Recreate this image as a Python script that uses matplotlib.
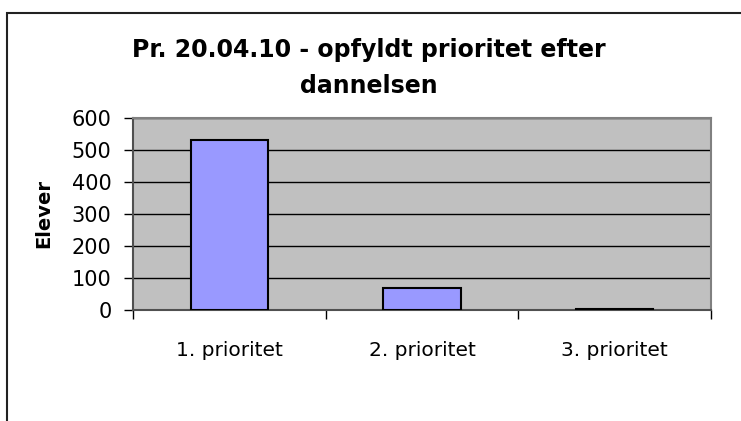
import matplotlib
matplotlib.use("Agg")
import matplotlib.pyplot as plt
from matplotlib.patches import Rectangle

categories = ["1. prioritet", "2. prioritet", "3. prioritet"]
values = [532, 68, 3]
yticks = [0, 100, 200, 300, 400, 500, 600]
title = "Pr. 20.04.10 - opfyldt prioritet efter\ndannelsen"
ylabel = "Elever"

plt.rcParams['font.family'] = ['DejaVu Sans']

W, H = 741, 421
fig = plt.figure(figsize=(W / 100, H / 100), dpi=100)
fig.patch.set_facecolor('white')

# chart area border (cropped at right/bottom)
top = 1 - 13 / H
fig.patches.append(Rectangle((7 / W, -0.2), 1.2, top + 0.2,
                             transform=fig.transFigure, fill=False,
                             edgecolor='#222222', linewidth=1.5, clip_on=False))

ax = fig.add_axes([133 / W, 1 - 310 / H, (711 - 133) / W, (310 - 118) / H])
ax.set_facecolor('#C0C0C0')

x = list(range(len(categories)))
ax.bar(x, values, width=0.4, color='#9999FF', edgecolor='black', linewidth=1.5, zorder=3)

ax.set_xlim(-0.5, len(categories) - 0.5)
ax.set_ylim(0, 600)
ax.set_yticks(yticks)
ax.set_yticklabels([str(v) for v in yticks], fontsize=15)
ax.yaxis.grid(True, color='black', linewidth=1.0, zorder=1)
ax.set_axisbelow(True)

ax.set_xticks(x)
ax.set_xticklabels(categories, fontsize=14.5)
ax.tick_params(axis='x', which='major', length=0, pad=22)
ax.set_xticks([i - 0.5 for i in range(len(categories) + 1)], minor=True)
ax.tick_params(axis='x', which='minor', length=6.5, width=1, color='black', direction='out')
ax.tick_params(axis='y', length=6.5, width=1, color='black', direction='out', pad=9)

for s in ax.spines.values():
    s.set_color('#808080')
    s.set_linewidth(1.5)
ax.spines['left'].set_color('#505050')
ax.spines['bottom'].set_color('#505050')

fig.text(44 / W, 1 - 214 / H, ylabel, rotation=90, ha='center', va='center',
         fontsize=14, fontweight='bold')

fig.text(369 / W, 1 - 68 / H, title, ha='center', va='center', fontsize=17,
         fontweight='bold', linespacing=1.6)

fig.savefig("out.png", dpi=100, facecolor='white')
